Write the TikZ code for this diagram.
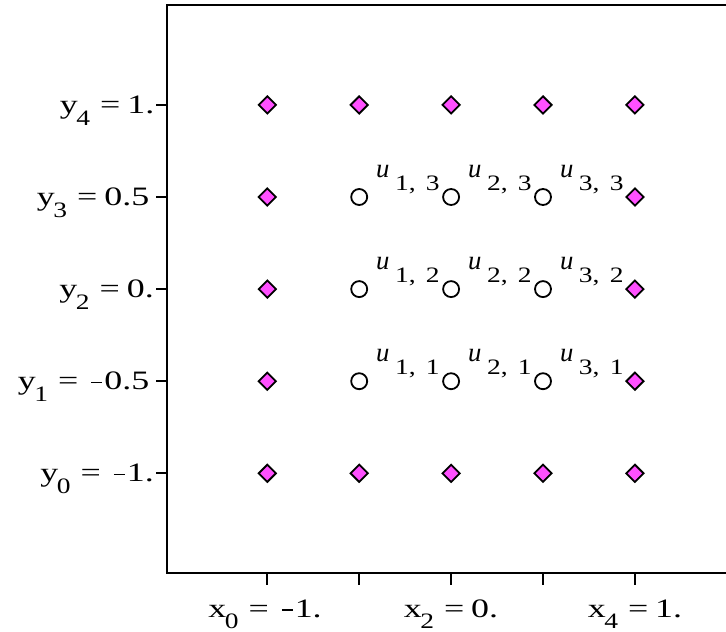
\documentclass[tikz,border=0pt]{standalone}
\usepackage{fontspec}
\setmainfont{Liberation Serif}
\newfontfamily\tickfont{Liberation Serif}[FakeStretch=1.35]
\newfontfamily\subfont{Liberation Serif}[FakeStretch=1.25]
\usetikzlibrary{shapes.geometric}
\definecolor{mag}{RGB}{255,80,255}
\newcommand\sbs[1]{\kern-1.5pt\raisebox{-11.5pt}{\subfont\fontsize{22}{22}\selectfont #1}}
\newcommand\usb[2]{\kern5.6pt\raisebox{-13pt}{\subfont\fontsize{22}{22}\selectfont #1,\kern10.2pt #2}}
\newcommand\eqs{\kern10pt=\kern7pt}
\newcommand\mns{\kern6pt\rule[6.5pt]{11pt}{1.8pt}\kern2pt}
\begin{document}
\begin{tikzpicture}[x=1pt,y=-1pt,
  frameline/.style={line width=2pt},
  tickmark/.style={line width=2pt},
  bnd/.style={diamond, draw=black, fill=mag, line width=1.8pt, minimum width=18pt, minimum height=18pt, inner sep=0pt},
  inr/.style={circle, draw=black, fill=white, line width=1.8pt, minimum size=16pt, inner sep=0pt},
  lbl/.style={font=\tickfont\fontsize{26.6}{30}\selectfont, inner sep=0pt},
  ulbl/.style={font=\fontsize{26.7}{30}\selectfont, inner sep=0pt}]
\useasboundingbox (0,0) rectangle (726,632);
% frame
\draw[frameline] (726,5) -- (166.7,5) -- (166.7,573.3) -- (726,573.3);
% ticks
\foreach \j in {0,...,4} \draw[tickmark] (156,{473.3-92.1*\j}) -- (166.7,{473.3-92.1*\j});
\foreach \i in {0,...,4} \draw[tickmark] ({267.3+91.9*\i},573.3) -- ({267.3+91.9*\i},585);
% left tick labels
\node[lbl, anchor=base east] (ly4) at (154.5,113.5) {y\sbs{4}\eqs 1.};
\node[lbl, anchor=base east] (ly3) at (149.5,205.6) {y\sbs{3}\eqs 0.5};
\node[lbl, anchor=base east] (ly2) at (154,297.7) {y\sbs{2}\eqs 0.};
\node[lbl, anchor=base east] (ly1) at (149.5,389.8) {y\sbs{1}\eqs\mns 0.5};
\node[lbl, anchor=base east] (ly0) at (154,481.9) {y\sbs{0}\eqs\mns 1.};
% bottom tick labels
\node[lbl, anchor=base] (lx0) at (265,617) {x\sbs{0}\eqs\mns 1.};
\node[lbl, anchor=base] (lx2) at (451,617) {x\sbs{2}\eqs 0.};
\node[lbl, anchor=base] (lx4) at (635,617) {x\sbs{4}\eqs 1.};
% boundary points
\foreach \i in {0,...,4} {
  \node[bnd] (p\i0) at ({267.3+91.9*\i},473.3) {};
  \node[bnd] (p\i4) at ({267.3+91.9*\i},104.9) {};
}
\foreach \j in {1,2,3} {
  \node[bnd] (p0\j) at (267.3,{473.3-92.1*\j}) {};
  \node[bnd] (p4\j) at (634.9,{473.3-92.1*\j}) {};
}
% interior points
\foreach \i in {1,2,3} \foreach \j in {1,2,3} {
  \node[inr] (p\i\j) at ({267.3+91.9*\i},{473.3-92.1*\j}) {};
  \node[ulbl, anchor=base west] (u\i\j) at ({267.3+91.9*\i+16.8},{473.3-92.1*\j-20}) {\textit{u}\usb{\i}{\j}};
}
\end{tikzpicture}
\end{document}
